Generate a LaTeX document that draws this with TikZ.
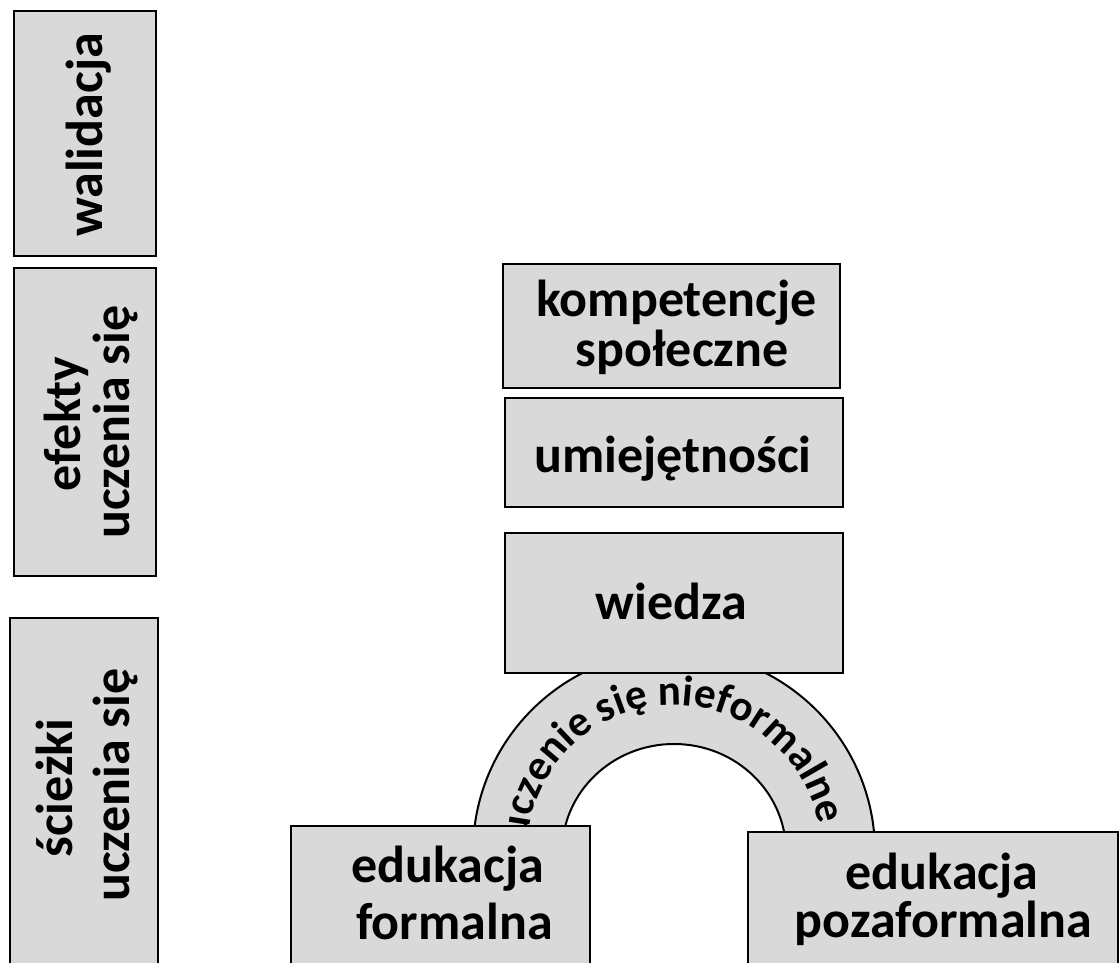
\documentclass[tikz,border=0pt]{standalone}
\usepackage{fontspec}
\setmainfont{Carlito}
\usetikzlibrary{decorations.text,calc}
\definecolor{boxgray}{HTML}{D9D9D9}
\tikzset{
  box/.style={draw=black, fill=boxgray, line width=2pt, inner sep=0pt, outer sep=0pt},
  lbl/.style={inner sep=0pt, font=\fontsize{52}{52}\selectfont\bfseries},
}
\begin{document}
\begin{tikzpicture}[x=1pt,y=1pt]
\useasboundingbox (0,0) rectangle (1120,963);
\fill[white] (0,0) rectangle (1120,963);
\clip (0,0) rectangle (1120,963);
% left column
\node[box, minimum width=142pt, minimum height=245pt] (wal) at (85,829.5) {};
\node[box, minimum width=142pt, minimum height=308pt] (efe) at (85,541) {};
\node[box, minimum width=148pt, minimum height=365pt] (sci) at (84,162.5) {};
\node[lbl, rotate=90, anchor=base] (walt) at (102,828) {walidacja};
\node[lbl, rotate=90, anchor=base] (efe1) at (80,539) {efekty};
\node[lbl, rotate=90, anchor=base] (efe2) at (129,541) {uczenia się};
\node[lbl, rotate=90, anchor=base] (sci1) at (72,175) {ścieżki};
\node[lbl, rotate=90, anchor=base] (sci2) at (129,178) {uczenia się};
% arch
\coordinate (archc) at (674,111);
\path[box] (473,111) arc[start angle=180, end angle=0, radius=201]
  -- (786,111) arc[start angle=0, end angle=180, x radius=112, y radius=108] -- cycle;
\coordinate (arcstart) at ($(archc)+(188:147)$);
\path[decorate, decoration={text along path, text align=center,
  text={|\fontsize{43}{43}\selectfont\bfseries|uczenie się nieformalne}}]
  (arcstart) arc[start angle=188, end angle=-2, radius=147];
% right stack
\node[box, minimum width=337pt, minimum height=124pt] (kom) at (671.5,637) {};
\node[box, minimum width=338pt, minimum height=109pt] (umi) at (674,510.5) {};
\node[box, minimum width=338pt, minimum height=140pt] (wie) at (674,360) {};
\node[lbl, anchor=base] (kom1) at (676.5,646) {kompetencje};
\node[lbl, anchor=base] (kom2) at (682,596) {społeczne};
\node[lbl, anchor=base] (umit) at (673,490) {umiejętności};
\node[lbl, anchor=base] (wiet) at (671.5,343) {wiedza};
% bottom boxes
\node[box, minimum width=299pt, minimum height=157pt] (edf) at (440.5,58.5) {};
\node[box, minimum width=370pt, minimum height=151pt] (edp) at (933,55.5) {};
\node[lbl, anchor=base] (edf1) at (448,80) {edukacja};
\node[lbl, anchor=base] (edf2) at (454.5,23) {formalna};
\node[lbl, anchor=base] (edp1) at (942,73) {edukacja};
\node[lbl, anchor=base] (edp2) at (943.5,25) {pozaformalna};
\end{tikzpicture}
\end{document}
